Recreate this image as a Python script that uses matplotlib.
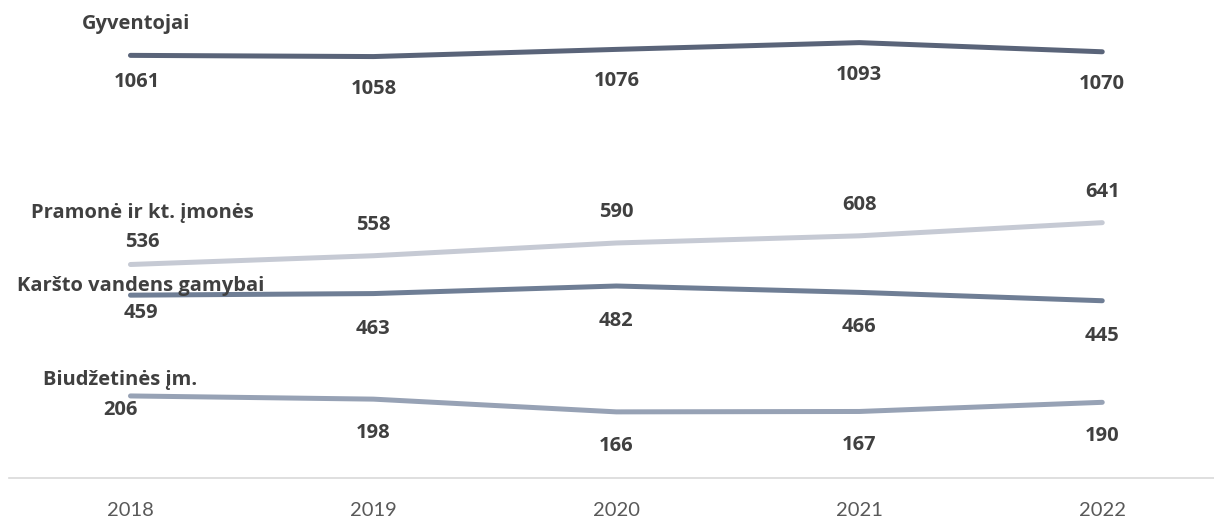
import matplotlib.pyplot as plt

plt.rcParams["font.family"] = ["Lato", "DejaVu Sans"]

years = ["2018", "2019", "2020", "2021", "2022"]
gyventojai = [1061, 1058, 1076, 1093, 1070]
pramone = [536, 558, 590, 608, 641]
karsto = [459, 463, 482, 466, 445]
biudzetines = [206, 198, 166, 167, 190]

names = ["Gyventojai", "Pramonė ir kt. įmonės", "Karšto vandens gamybai", "Biudžetinės įm."]

# colour, value-label offset (px), first-point name offset, first-point value offset (dx, dy)
styles = [
    (gyventojai, "#5a6479", -32, (6, 31), (6, -27)),
    (pramone, "#c6cad4", 31, (12, 51), (12, 22)),
    (karsto, "#6f7e95", -35, (10, 9), (10, -18)),
    (biudzetines, "#97a2b5", -34, (-10, 16), (-10, -14)),
]

W, H = 1214, 520
fig = plt.figure(figsize=(W / 100, H / 100), dpi=100)
ax = fig.add_axes([9 / W, 42 / H, (W - 9) / W, (H - 42) / H])
ax.set_xlim(-0.5, 4.46)
ax.set_ylim(0, 1200)

x = list(range(len(years)))
txt = dict(ha="center", va="center", fontsize=14.5, fontweight="bold", color="#404040",
           family=["Open Sans", "DejaVu Sans"], textcoords="offset pixels")

for (vals, color, off, name_off, first_off), name in zip(styles, names):
    ax.plot(x, vals, color=color, lw=3.6, solid_capstyle="round", solid_joinstyle="round")
    for i, v in enumerate(vals):
        if i == 0:
            ax.annotate(name, (i, v), xytext=name_off, **txt)
            ax.annotate(str(v), (i, v), xytext=first_off, **txt)
        else:
            ax.annotate(str(v), (i, v), xytext=(0, off), **txt)

for s in ["top", "right", "left"]:
    ax.spines[s].set_visible(False)
ax.spines["bottom"].set_color("#d9d9d9")
ax.spines["bottom"].set_linewidth(1.2)
ax.set_yticks([])
ax.set_xticks(x)
ax.set_xticklabels(years, fontsize=14.5, color="#595959")
ax.tick_params(axis="x", length=0, pad=17)

fig.savefig("out.png", dpi=100)
